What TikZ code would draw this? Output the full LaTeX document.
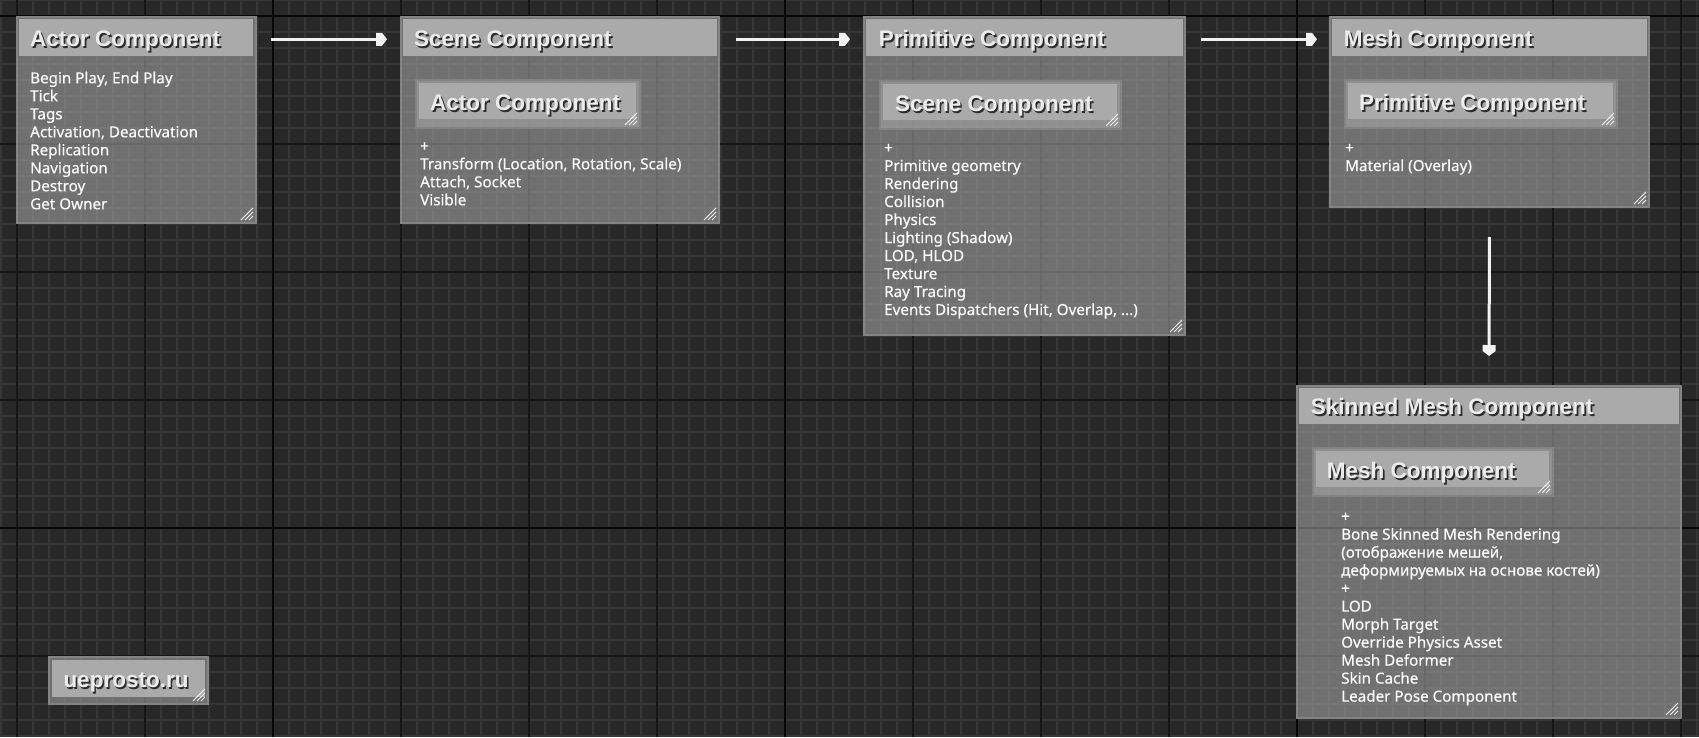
\documentclass[tikz,border=0pt]{standalone}
\usepackage{fontspec}
\setmainfont{Noto Sans}
\newfontfamily\bodyfont{Noto Sans}[FakeBold=0.45]
\newfontfamily\tfont{Liberation Sans}
\usetikzlibrary{arrows.meta,calc}
\definecolor{bgc}{RGB}{40,40,40}
\definecolor{minorc}{RGB}{53,53,53}
\definecolor{majorc}{RGB}{22,22,22}
\definecolor{blackc}{RGB}{6,6,6}
\definecolor{boxfill}{RGB}{172,172,172}
\definecolor{boxedge}{RGB}{132,132,132}
\definecolor{headfill}{RGB}{170,170,170}
\definecolor{titlecol}{RGB}{236,236,236}
\definecolor{shadowcol}{RGB}{45,45,45}
\definecolor{bodycol}{RGB}{250,250,250}
\definecolor{linecol}{RGB}{242,242,242}
\pgfdeclarearrow{
  name = Pin,
  setup code = {
    \pgfarrowssettipend{0pt}
    \pgfarrowssetlineend{-6pt}
    \pgfarrowssetbackend{-11pt}
  },
  drawing code = {
    \pgfpathmoveto{\pgfpoint{0pt}{0pt}}
    \pgfpathlineto{\pgfpoint{-5pt}{6.5pt}}
    \pgfpathlineto{\pgfpoint{-11pt}{6.5pt}}
    \pgfpathlineto{\pgfpoint{-11pt}{-6.5pt}}
    \pgfpathlineto{\pgfpoint{-5pt}{-6.5pt}}
    \pgfpathclose
    \pgfusepathqfill
  }
}
\tikzset{
  cbox/.style={anchor=north west, inner sep=0pt, outer sep=0pt, fill=boxfill, fill opacity=0.55, draw=boxedge, line width=1.2pt},
  chead/.style={anchor=north west, inner sep=0pt, outer sep=0pt, fill=headfill},
  ttext/.style={anchor=base west, inner sep=0pt, text=titlecol, font=\tfont\bfseries\fontsize{22.5}{27}\selectfont},
  tshadow/.style={ttext, text=shadowcol},
  btext/.style={anchor=base west, inner sep=0pt, text=bodycol, font=\bodyfont\fontsize{15.2}{18}\selectfont},
  conn/.style={draw=linecol, line width=3pt, -{Pin}},
  handle/.style={draw=white, line width=1pt},
  minorl/.style={draw=minorc, line width=1.2pt},
  majorl/.style={draw=majorc, line width=2pt},
  blackl/.style={draw=blackc, line width=2.4pt}
}
\newcommand\bl[1]{\hbox{#1}}
\newcommand\grip[1]{\foreach \k in {4,8,12} {\draw[handle] ($(#1.south east)+(-3-\k,-3)$) -- ($(#1.south east)+(-3,-3-\k)$);}}
\newcommand\ttl[4]{%
  \node[tshadow] (#1s) at (#2+1.6,#3+2) {#4};
  \node[ttext] (#1) at (#2,#3) {#4};}
\begin{document}
\begin{tikzpicture}[x=1pt,y=-1pt]
\useasboundingbox (0,0) rectangle (1699,737);
\fill[bgc] (0,0) rectangle (1699,737);
% grid
\foreach \x in {1,17,...,1697} \draw[minorl] (\x,0) -- (\x,737);
\foreach \y in {0,16,...,736} \draw[minorl] (0,\y) -- (1699,\y);
\foreach \x in {17,145,...,1681} \draw[majorl] (\x,0) -- (\x,737);
\foreach \y in {16,144,...,656} \draw[majorl] (0,\y) -- (1699,\y);
\foreach \x in {273,785,1297} \draw[blackl] (\x,0) -- (\x,737);
\foreach \y in {16,528} \draw[blackl] (0,\y) -- (1699,\y);

% Actor Component
\node[cbox, minimum width=239pt, minimum height=206pt] (A) at (17,17) {};
\node[chead, minimum width=234pt, minimum height=37pt] (Ah) at (19,19) {};
\ttl{At}{30}{46.7}{Actor Component}
\node[btext] (Ab) at (30,83.3) {\vtop{\bl{Begin Play, End Play}\bl{Tick}\bl{Tags}\bl{Activation, Deactivation}\bl{Replication}\bl{Navigation}\bl{Destroy}\bl{Get Owner}}};
\grip{A}

% Scene Component
\node[cbox, minimum width=318pt, minimum height=206pt] (S) at (401,17) {};
\node[chead, minimum width=314pt, minimum height=37pt] (Sh) at (403,19) {};
\ttl{St}{414}{46.7}{Scene Component}
\node[cbox, minimum width=224pt, minimum height=48pt] (Si) at (416,80) {};
\node[chead, minimum width=217pt, minimum height=36pt] (Sif) at (419,83) {};
\ttl{Sit}{430}{110}{Actor Component}
\grip{Si}
\node[btext] (Sb) at (420,151.3) {\vtop{\bl{+}\bl{Transform (Location, Rotation, Scale)}\bl{Attach, Socket}\bl{Visible}}};
\grip{S}

% Primitive Component
\node[cbox, minimum width=321pt, minimum height=318pt] (P) at (864,17) {};
\node[chead, minimum width=317pt, minimum height=37pt] (Ph) at (866,19) {};
\ttl{Pt}{878.7}{46.7}{Primitive Component}
\node[cbox, minimum width=241pt, minimum height=48pt] (Pi) at (880,81) {};
\node[chead, minimum width=234pt, minimum height=36pt] (Pif) at (883,84) {};
\ttl{Pit}{894.8}{111}{Scene Component}
\grip{Pi}
\node[btext] (Pb) at (884,153) {\vtop{\bl{+}\bl{Primitive geometry}\bl{Rendering}\bl{Collision}\bl{Physics}\bl{Lighting (Shadow)}\bl{LOD, HLOD}\bl{Texture}\bl{Ray Tracing}\bl{Events Dispatchers (Hit, Overlap, ...)}}};
\grip{P}

% Mesh Component
\node[cbox, minimum width=319pt, minimum height=190pt] (M) at (1330,17) {};
\node[chead, minimum width=315pt, minimum height=37pt] (Mh) at (1332,19) {};
\ttl{Mt}{1343.7}{46.7}{Mesh Component}
\node[cbox, minimum width=272pt, minimum height=48pt] (Mi) at (1345,80) {};
\node[chead, minimum width=265pt, minimum height=36pt] (Mif) at (1348,83) {};
\ttl{Mit}{1359}{110.5}{Primitive Component}
\grip{Mi}
\node[btext] (Mb) at (1345,153) {\vtop{\bl{+}\bl{Material (Overlay)}}};
\grip{M}

% Skinned Mesh Component
\node[cbox, minimum width=384pt, minimum height=332pt] (K) at (1297,386) {};
\node[chead, minimum width=380pt, minimum height=36pt] (Kh) at (1299,388) {};
\ttl{Kt}{1310.7}{414.3}{Skinned Mesh Component}
\node[cbox, minimum width=240pt, minimum height=48pt] (Ki) at (1313,448) {};
\node[chead, minimum width=233pt, minimum height=36pt] (Kif) at (1316,451) {};
\ttl{Kit}{1326.7}{478.5}{Mesh Component}
\grip{Ki}
\node[btext] (Kb) at (1341,521.6) {\vtop{\bl{+}\bl{Bone Skinned Mesh Rendering}\bl{(отображение мешей,}\bl{деформируемых на основе костей)}\bl{+}\bl{LOD}\bl{Morph Target}\bl{Override Physics Asset}\bl{Mesh Deformer}\bl{Skin Cache}\bl{Leader Pose Component}}};
\grip{K}

% ueprosto.ru
\node[cbox, minimum width=159pt, minimum height=47pt] (U) at (49,657) {};
\node[chead, minimum width=153pt, minimum height=37pt] (Uf) at (52,660) {};
\ttl{Ut}{63.3}{687.8}{ueprosto.ru}
\grip{U}

% connectors
\draw[conn, shorten <=18pt, shorten >=16pt] ($(Ah.east)+(0,1.8)$) -- ($(Sh.west)+(0,1.8)$);
\draw[conn, shorten <=19pt, shorten >=16pt] ($(Sh.east)+(0,1.8)$) -- ($(Ph.west)+(0,1.8)$);
\draw[conn, shorten <=18pt, shorten >=15pt] ($(Ph.east)+(0,1.8)$) -- ($(Mh.west)+(0,1.8)$);
\draw[conn, shorten <=30pt, shorten >=30pt] (M.south) -- (K.north);
\end{tikzpicture}
\end{document}
